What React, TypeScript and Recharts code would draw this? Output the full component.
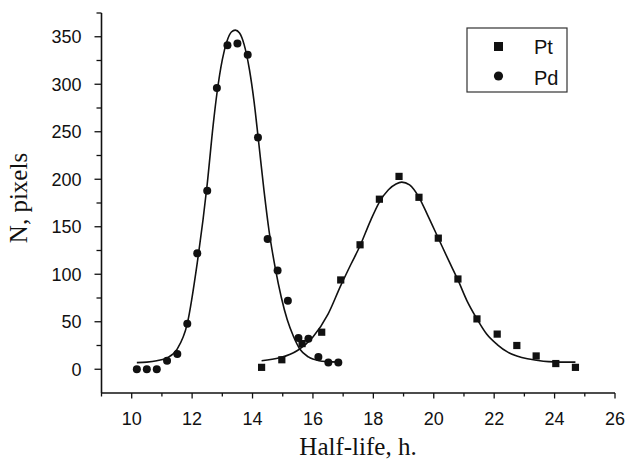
import React from 'react';
import { ComposedChart, Line, Scatter, XAxis, YAxis } from 'recharts';

// measured points
const pdX = [10.17, 10.5, 10.83, 11.17, 11.51, 11.84, 12.17, 12.5, 12.82, 13.17, 13.5, 13.84, 14.18, 14.5, 14.83, 15.17, 15.52, 15.85, 16.18, 16.51, 16.84];
const pdY = [0, 0, 0, 9, 16, 48, 122, 188, 296, 341, 343, 331, 244, 137, 104, 72, 33, 32, 13, 7, 7];
const ptX = [14.3, 14.97, 15.64, 16.29, 16.92, 17.56, 18.2, 18.85, 19.51, 20.15, 20.8, 21.43, 22.1, 22.75, 23.39, 24.04, 24.69];
const ptY = [2, 10, 27, 39, 94, 131, 179, 203, 181, 138, 95, 53, 37, 25, 14, 6, 2];

// fitted curves
const pdFitX = [10.17, 10.5, 10.83, 11.17, 11.5, 11.84, 12.17, 12.5, 12.7, 12.82, 13.0, 13.15, 13.3, 13.43, 13.57, 13.72, 13.9, 14.05, 14.2, 14.38, 14.55, 14.75, 14.95, 15.15, 15.35, 15.57, 15.85, 16.2, 16.5, 16.84];
const pdFitY = [7, 7.5, 9, 12, 21, 48, 112, 195, 258, 290, 326, 345, 355, 357, 354, 342, 315, 282, 240, 188, 145, 107, 76, 52, 35, 21, 13, 9, 8, 7.5];
const ptFitX = [14.3, 14.9, 15.5, 16.0, 16.5, 16.92, 17.25, 17.56, 17.9, 18.2, 18.5, 18.75, 18.94, 19.2, 19.51, 19.8, 20.15, 20.5, 20.8, 21.1, 21.43, 21.75, 22.1, 22.45, 22.75, 23.1, 23.4, 23.8, 24.2, 24.69];
const ptFitY = [9, 12, 20, 34, 58, 88, 110, 130, 156, 176, 189, 195, 197, 194, 181, 162, 138, 114, 94, 72, 53, 37, 26, 18, 14, 11, 9.5, 8, 7.5, 7.5];

const xTicks = [9, 10, 11, 12, 13, 14, 15, 16, 17, 18, 19, 20, 21, 22, 23, 24, 25, 26];
const yTicks = [0, 25, 50, 75, 100, 125, 150, 175, 200, 225, 250, 275, 300, 325, 350, 375];

const toPoints = (xs: number[], ys: number[]) => xs.map((x, i) => ({ x, y: ys[i] }));

const pd = toPoints(pdX, pdY);
const pt = toPoints(ptX, ptY);
const pdFit = toPoints(pdFitX, pdFitY);
const ptFit = toPoints(ptFitX, ptFitY);

const SANS = '"Liberation Sans", Arial, Helvetica, sans-serif';
const SERIF = '"Liberation Serif", "Times New Roman", serif';
const INK = '#111';

function XTick(props: any) {
  const { x, y, payload } = props;
  const v = payload.value;
  const major = v % 2 === 0;
  const axisY = y - 5;
  return (
    <g>
      <line x1={x} x2={x} y1={axisY} y2={axisY + (major ? 5.5 : 3.5)} stroke={INK} strokeWidth={1.3} />
      {major && v >= 10 && (
        <text x={x} y={y + 27} textAnchor="middle" fontFamily={SANS} fontSize={18} fill={INK}>
          {v}
        </text>
      )}
    </g>
  );
}

function YTick(props: any) {
  const { x, y, payload } = props;
  const v = payload.value;
  const major = v % 50 === 0;
  const axisX = x + 20;
  return (
    <g>
      <line x1={axisX - (major ? 7 : 5)} x2={axisX} y1={y} y2={y} stroke={INK} strokeWidth={1.3} />
      {major && (
        <text x={x} y={y} dy="0.36em" textAnchor="end" fontFamily={SANS} fontSize={18} fill={INK}>
          {v}
        </text>
      )}
    </g>
  );
}

const square = (p: any) => <rect x={p.cx - 3.6} y={p.cy - 3.6} width={7.2} height={7.2} fill={INK} />;
const dot = (p: any) => <circle cx={p.cx} cy={p.cy} r={4} fill={INK} />;

export default function App() {
  return (
    <div style={{ position: 'absolute', left: 0, top: 0, width: 629, height: 467, background: '#fff' }}>
      <ComposedChart width={629} height={467} margin={{ top: 13, right: 14, left: 0, bottom: 0 }}>
        <XAxis
          type="number"
          dataKey="x"
          domain={[9, 26]}
          ticks={xTicks}
          interval={0}
          allowDataOverflow
          height={74}
          tickSize={5}
          tickMargin={0}
          tickLine={false}
          tick={<XTick />}
          axisLine={{ stroke: INK, strokeWidth: 1.6 }}
          label={{
            content: () => (
              <text x={358} y={455} textAnchor="middle" fontFamily={SERIF} fontSize={25} fill={INK}>
                Half-life, h.
              </text>
            ),
          }}
        />
        <YAxis
          type="number"
          dataKey="y"
          domain={[-25, 375]}
          ticks={yTicks}
          interval={0}
          allowDataOverflow
          width={101.5}
          tickSize={7}
          tickMargin={13}
          tickLine={false}
          tick={<YTick />}
          axisLine={{ stroke: INK, strokeWidth: 1.6 }}
          label={{
            content: () => (
              <text
                x={27}
                y={198}
                transform="rotate(-90 27 198)"
                textAnchor="middle"
                fontFamily={SERIF}
                fontSize={25}
                fill={INK}
              >
                N, pixels
              </text>
            ),
          }}
        />
        <Line data={pdFit} dataKey="y" type="monotone" stroke={INK} strokeWidth={1.6} dot={false} isAnimationActive={false} />
        <Line data={ptFit} dataKey="y" type="monotone" stroke={INK} strokeWidth={1.6} dot={false} isAnimationActive={false} />
        <Scatter data={pt} dataKey="y" shape={square} isAnimationActive={false} />
        <Scatter data={pd} dataKey="y" shape={dot} isAnimationActive={false} />
      </ComposedChart>
      <svg style={{ position: 'absolute', left: 466, top: 27 }} width={103} height={67}>
        <rect x={1} y={1} width={100} height={64} fill="#fff" stroke="#333" strokeWidth={1.2} />
        <rect x={28} y={15} width={9} height={9} fill={INK} />
        <circle cx={32.5} cy={49} r={4.6} fill={INK} />
        <text x={68} y={26.5} fontFamily={SANS} fontSize={20} fill={INK}>Pt</text>
        <text x={68} y={57.5} fontFamily={SANS} fontSize={20} fill={INK}>Pd</text>
      </svg>
    </div>
  );
}
